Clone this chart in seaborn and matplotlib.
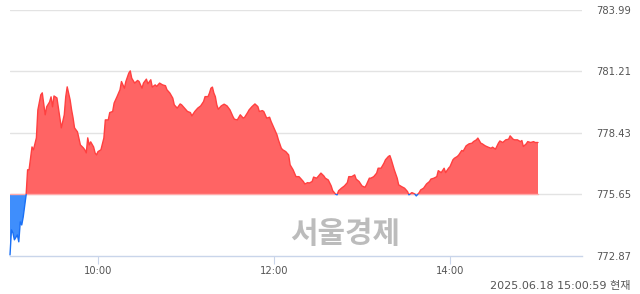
import numpy as np
import pandas as pd
import matplotlib
matplotlib.use("Agg")
import matplotlib.pyplot as plt
import seaborn as sns
from matplotlib.patches import Rectangle

# minutes after 09:00
minutes = [0, 1, 2, 3, 5, 6, 7, 8, 9, 11, 12, 13, 15, 16, 18, 19, 21, 22, 24, 25,
           27, 28, 29, 30, 32, 33, 34, 35, 37, 38, 39, 41, 42, 43, 44, 46, 48, 50, 51, 52,
           53, 54, 55, 57, 58, 59, 60, 62, 64, 65, 67, 68, 70, 71, 73, 75, 76, 78, 79, 81,
           82, 83, 85, 87, 88, 90, 91, 93, 94, 96, 97, 99, 100, 102, 104, 106, 107, 109, 111, 112,
           114, 116, 117, 119, 121, 123, 124, 126, 128, 130, 132, 133, 135, 136, 137, 138, 139, 140, 141, 142,
           144, 146, 148, 150, 152, 153, 155, 156, 157, 159, 160, 162, 163, 165, 167, 169, 170, 172, 173, 175,
           177, 178, 180, 182, 183, 185, 186, 188, 190, 191, 193, 195, 197, 198, 200, 201, 203, 204, 206, 207,
           209, 210, 212, 214, 215, 217, 219, 220, 222, 223, 224, 226, 228, 230, 231, 233, 235, 236, 238, 240,
           242, 243, 245, 246, 248, 250, 251, 253, 255, 256, 258, 259, 260, 262, 264, 265, 267, 269, 271, 272,
           274, 276, 277, 279, 280, 282, 284, 286, 287, 289, 291, 292, 294, 296, 297, 299, 300, 302, 303, 305,
           306, 308, 309, 311, 313, 315, 316, 318, 319, 321, 322, 324, 326, 328, 329, 331, 333, 334, 336, 338,
           340, 341, 343, 344, 346, 348, 349, 350, 352, 353, 355, 357, 358, 360]
values = [772.92, 774.05, 773.91, 773.60, 773.82, 773.51, 774.41, 774.27, 774.63, 775.63,
          776.76, 776.76, 777.79, 777.66, 778.20, 779.46, 780.14, 780.23, 779.24, 779.60,
          779.82, 780.05, 779.60, 780.09, 780.00, 779.55, 779.10, 778.65, 779.24, 780.05,
          780.50, 779.91, 779.46, 779.10, 778.65, 778.47, 777.88, 777.75, 777.66, 777.52,
          778.20, 777.88, 778.02, 777.79, 777.52, 777.43, 777.58, 777.66, 778.19, 779.01,
          779.01, 779.34, 779.39, 779.77, 780.06, 780.37, 780.74, 780.44, 780.74, 781.12,
          781.22, 780.89, 780.67, 780.79, 780.74, 780.44, 780.67, 780.85, 780.64, 780.82,
          780.49, 780.59, 780.52, 780.67, 780.59, 780.55, 780.37, 780.22, 779.99, 779.69,
          779.54, 779.73, 779.69, 779.54, 779.39, 779.34, 779.19, 779.39, 779.54, 779.64,
          779.84, 780.06, 780.06, 780.22, 780.44, 780.49, 780.22, 780.06, 779.69, 779.49,
          779.64, 779.72, 779.64, 779.46, 779.16, 779.04, 779.01, 779.13, 779.24, 779.09,
          779.13, 779.34, 779.46, 779.61, 779.73, 779.61, 779.39, 779.43, 779.39, 779.09,
          779.13, 778.94, 778.64, 778.34, 778.11, 777.73, 777.66, 777.58, 777.43, 776.98,
          776.76, 776.45, 776.45, 776.38, 776.23, 776.12, 776.18, 776.16, 776.23, 776.43,
          776.38, 776.45, 776.61, 776.48, 776.38, 776.30, 776.03, 775.82, 775.66, 775.63,
          775.81, 775.93, 776.03, 776.18, 776.45, 776.45, 776.53, 776.34, 776.23, 776.03,
          775.97, 776.08, 776.38, 776.38, 776.45, 776.61, 776.83, 776.83, 777.06, 777.21,
          777.36, 777.40, 777.21, 776.76, 776.38, 776.08, 776.00, 775.93, 775.78, 775.63,
          775.73, 775.67, 775.58, 775.73, 775.85, 775.93, 776.12, 776.23, 776.34, 776.38,
          776.45, 776.72, 776.63, 776.83, 776.63, 776.83, 776.90, 777.21, 777.28, 777.36,
          777.43, 777.63, 777.60, 777.84, 777.93, 777.96, 778.03, 778.11, 778.19, 777.96,
          777.93, 777.84, 777.78, 777.73, 777.78, 777.69, 777.96, 778.06, 777.99, 778.11,
          778.14, 778.29, 778.14, 778.11, 778.11, 778.03, 778.08, 777.81, 777.93, 778.03,
          777.99, 778.03, 777.99, 777.99]

base_value = 775.65
y_ticks = [772.87, 775.65, 778.43, 781.21, 783.99]
x_tick_pos = [60, 180, 300]
x_tick_labels = ["10:00", "12:00", "14:00"]
watermark = "서울경제"
stamp = "2025.06.18 15:00:59 현재"

df = pd.DataFrame({"minute": minutes, "value": values})

sns.set_theme(style="white")
plt.rcParams["font.family"] = ["DejaVu Sans", "Noto Sans CJK KR"]

fig = plt.figure(figsize=(6.4, 2.94), dpi=100)
ax = fig.add_axes([10 / 640, 1 - 256 / 294, 572 / 640, (256 - 9.5) / 294])

RED_FILL = "#ff6464"
RED_LINE = "#ff4040"
BLUE_FILL = "#3f8efc"
BLUE_LINE = "#1a70f5"

x = df["minute"].to_numpy(float)
y = df["value"].to_numpy(float)

# grid
for t in y_ticks[1:]:
    ax.axhline(t, color="#e3e3e3", lw=1.0, zorder=0)

ax.fill_between(x, y, base_value, where=y >= base_value, interpolate=True,
                color=RED_FILL, lw=0, zorder=2)
ax.fill_between(x, y, base_value, where=y <= base_value, interpolate=True,
                color=BLUE_FILL, lw=0, zorder=2)

sns.lineplot(data=df, x="minute", y="value", ax=ax, color=RED_LINE, lw=1.0, zorder=3)
line_red = ax.lines[-1]
sns.lineplot(data=df, x="minute", y="value", ax=ax, color=BLUE_LINE, lw=1.0, zorder=3)
line_blue = ax.lines[-1]
clip_up = Rectangle((-10, base_value), 420, 20, transform=ax.transData)
clip_dn = Rectangle((-10, base_value - 20), 420, 20, transform=ax.transData)
line_red.set_clip_path(clip_up)
line_blue.set_clip_path(clip_dn)

# baseline edge over the filled span
ax.plot([x[0], x[-1]], [base_value, base_value], color="#ffaaaa", lw=1.0, zorder=2.5)

ax.set_xlim(0, 390)
ax.set_ylim(y_ticks[0], y_ticks[-1])
ax.set_xlabel("")
ax.set_ylabel("")

ax.yaxis.tick_right()
ax.set_yticks(y_ticks)
ax.set_yticklabels([f"{t:.2f}" for t in y_ticks])
ax.tick_params(axis="y", length=0, pad=10.5, labelsize=7.2, labelcolor="#555555")
for lab in ax.get_yticklabels():
    lab.set_horizontalalignment("left")

ax.set_xticks(x_tick_pos)
ax.set_xticklabels(x_tick_labels)
ax.tick_params(axis="x", length=6, width=0.8, color="#c9d5ea", pad=1.5,
               labelsize=7.2, labelcolor="#555555", bottom=True)

for s in ["top", "left", "right"]:
    ax.spines[s].set_visible(False)
ax.spines["bottom"].set_color("#c9d5ea")
ax.spines["bottom"].set_linewidth(1.0)
ax.grid(False)

fig.text(345 / 640, 1 - 234 / 294, watermark, fontsize=21.5, fontweight="bold",
         color="#bcbcbc", ha="center", va="center",
         family=["Noto Sans CJK KR", "DejaVu Sans"])
fig.text(630 / 640, 1 - 286 / 294, stamp, fontsize=8.0, color="#555555",
         ha="right", va="center", family=["DejaVu Sans", "Noto Sans CJK KR"])

fig.savefig("out.png", dpi=100)
